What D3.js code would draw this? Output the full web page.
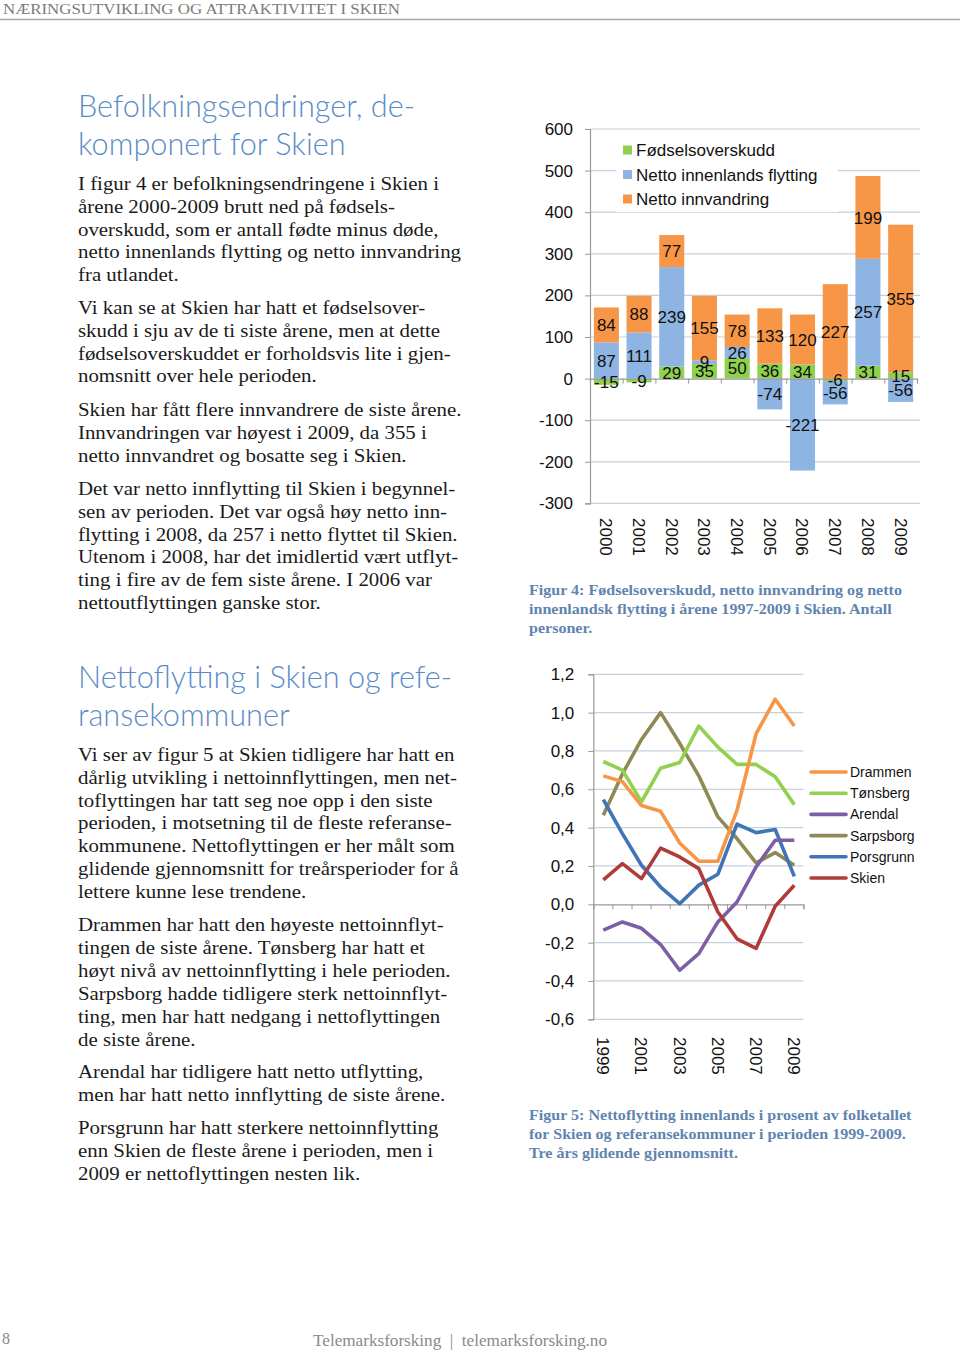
<!DOCTYPE html>
<html><head><meta charset="utf-8">
<script src="https://cdn.jsdelivr.net/npm/d3@7"></script>
<style>
html,body{margin:0;padding:0;background:#fff;}
svg{display:block;}
</style></head>
<body>
<script>
// ---------- Figure 4 data ----------
const years4 = ["2000","2001","2002","2003","2004","2005","2006","2007","2008","2009"];
const seriesNames4 = ["Fødselsoverskudd","Netto innenlands flytting","Netto innvandring"];
const fodselsoverskudd = [-15,-9,29,35,50,36,34,-6,31,15];
const innenlandsFlytting = [87,111,239,9,26,-74,-221,-56,257,-56];
const innvandring = [84,88,77,155,78,133,120,227,199,355];
const yTicks4 = [-300,-200,-100,0,100,200,300,400,500,600];

// ---------- Figure 5 data ----------
const years5 = ["1999","2000","2001","2002","2003","2004","2005","2006","2007","2008","2009"];
const yearLabels5 = ["1999","2001","2003","2005","2007","2009"];
const cities = ["Drammen","Tønsberg","Arendal","Sarpsborg","Porsgrunn","Skien"];
const drammen   = [0.67,0.64,0.515,0.485,0.32,0.225,0.225,0.49,0.89,1.07,0.93];
const tonsberg  = [0.745,0.70,0.535,0.71,0.74,0.93,0.82,0.73,0.73,0.665,0.52];
const arendal   = [-0.135,-0.092,-0.125,-0.21,-0.344,-0.257,-0.092,0.012,0.195,0.334,0.334];
const sarpsborg = [0.465,0.68,0.86,1.0,0.84,0.67,0.456,0.343,0.216,0.27,0.204];
const porsgrunn = [0.546,0.369,0.204,0.09,0.003,0.10,0.157,0.418,0.374,0.39,0.146];
const skien     = [0.128,0.212,0.134,0.293,0.247,0.186,-0.04,-0.18,-0.23,-0.01,0.099];
const yTicks5 = [-0.6,-0.4,-0.2,0,0.2,0.4,0.6,0.8,1.0,1.2];

// ---------- Text ----------
const header = "NÆRINGSUTVIKLING OG ATTRAKTIVITET I SKIEN";
const heading1 = ["Befolkningsendringer, de-","komponert for Skien"];
const body1 = [
 ["I figur 4 er befolkningsendringene i Skien i","årene 2000-2009 brutt ned på fødsels-","overskudd, som er antall fødte minus døde,","netto innenlands flytting og netto innvandring","fra utlandet."],
 ["Vi kan se at Skien har hatt et fødselsover-","skudd i sju av de ti siste årene, men at dette","fødselsoverskuddet er forholdsvis lite i gjen-","nomsnitt over hele perioden."],
 ["Skien har fått flere innvandrere de siste årene.","Innvandringen var høyest i 2009, da 355 i","netto innvandret og bosatte seg i Skien."],
 ["Det var netto innflytting til Skien i begynnel-","sen av perioden. Det var også høy netto inn-","flytting i 2008, da 257 i netto flyttet til Skien.","Utenom i 2008, har det imidlertid vært utflyt-","ting i fire av de fem siste årene. I 2006 var","nettoutflyttingen ganske stor."]
];
const heading2 = ["Nettoflytting i Skien og refe-","ransekommuner"];
const body2 = [
 ["Vi ser av figur 5 at Skien tidligere har hatt en","dårlig utvikling i nettoinnflyttingen, men net-","toflyttingen har tatt seg noe opp i den siste","perioden, i motsetning til de fleste referanse-","kommunene. Nettoflyttingen er her målt som","glidende gjennomsnitt for treårsperioder for å","lettere kunne lese trendene."],
 ["Drammen har hatt den høyeste nettoinnflyt-","tingen de siste årene. Tønsberg har hatt et","høyt nivå av nettoinnflytting i hele perioden."],
 ["Sarpsborg hadde tidligere sterk nettoinnflyt-","ting, men har hatt nedgang i nettoflyttingen","de siste årene."],
 ["Arendal har tidligere hatt netto utflytting,","men har hatt netto innflytting de siste årene."],
 ["Porsgrunn har hatt sterkere nettoinnflytting","enn Skien de fleste årene i perioden, men i","2009 er nettoflyttingen nesten lik."]
];
const caption4 = ["Figur 4: Fødselsoverskudd, netto innvandring og netto","innenlandsk flytting i årene 1997-2009 i Skien. Antall","personer."];
const caption5 = ["Figur 5: Nettoflytting innenlands i prosent av folketallet","for Skien og referansekommuner i perioden 1999-2009.","Tre års glidende gjennomsnitt."];
const footer = "Telemarksforsking  |  telemarksforsking.no";

const svg = d3.select("body").append("svg").attr("width",960).attr("height",1350);

const serif = "'Liberation Serif','Times New Roman',serif";
const sans = "'Liberation Sans',Arial,sans-serif";
const headFont = "Lato,'Open Sans',sans-serif";
const headColor = "#5b8cc8";
const capColor = "#5f84b0";
const hyph = s => String(s).replace(/\u2212/g,"-");

// header
svg.append("text").attr("x",3).attr("y",14).attr("font-family",serif).attr("font-size",15.5)
  .attr("fill","#7a7a7a").attr("textLength",397).attr("lengthAdjust","spacingAndGlyphs").text(header);
svg.append("line").attr("x1",0).attr("x2",960).attr("y1",19.5).attr("y2",19.5).attr("stroke","#a8a8a8").attr("stroke-width",1.5);

function sx(x0,k){ return `translate(${x0},0) scale(${k},1) translate(${-x0},0)`; }
function heading(lines, y0){
  const g = svg.append("g").attr("transform",sx(78,0.958));
  lines.forEach((t,i)=>g.append("text").attr("x",78).attr("y",y0+i*38)
    .attr("font-family",headFont).attr("font-weight",300).attr("font-size",32)
    .attr("fill",headColor).text(t));
}
function body(paras, starts){
  const g = svg.append("g").attr("transform",sx(78,1.087));
  paras.forEach((p,pi)=>p.forEach((t,i)=>g.append("text").attr("x",78).attr("y",starts[pi]+i*22.8)
    .attr("font-family",serif).attr("font-size",19.2).attr("fill","#1a1a1a").text(t)));
}
heading(heading1,117);
body(body1,[190,314,416,495]);
heading(heading2,688);
body(body2,[761,931,1000,1078,1134]);

function caption(lines,y0){
  const g = svg.append("g").attr("transform",sx(529,1.057));
  lines.forEach((t,i)=>g.append("text").attr("x",529).attr("y",y0+i*19)
    .attr("font-family",serif).attr("font-weight","bold").attr("font-size",15.2)
    .attr("fill",capColor).text(t));
}
caption(caption4,595);
caption(caption5,1120);

// footer
svg.append("text").attr("x",2).attr("y",1344).attr("font-family",serif).attr("font-size",16).attr("fill","#888").text("8");
svg.append("text").attr("x",460).attr("y",1346).attr("text-anchor","middle").attr("font-family",serif).attr("font-size",16.5).attr("fill","#8a8a8a").attr("xml:space","preserve").attr("textLength",294).attr("lengthAdjust","spacingAndGlyphs").text(footer);

// ================= Figure 4 =================
const gridCol = "#c5d2e0";
const axisCol = "#9a9a9a";
const x4 = d3.scaleBand().domain(years4).range([590,917]).paddingInner(0.235).paddingOuter(0.1175);
const y4 = d3.scaleLinear().domain([-300,600]).range([503.4,129]);
const colors4 = ["#8fd14f","#8db4e2","#f79646"];
const g4 = svg.append("g");

// gridlines
g4.selectAll("line.grid").data(yTicks4.filter(d=>d!==0)).join("line")
  .attr("x1",590).attr("x2",920).attr("y1",d=>y4(d)).attr("y2",d=>y4(d))
  .attr("stroke",gridCol).attr("stroke-width",1.2);

// stacked bars
const rows4 = years4.map((yr,i)=>({year:yr, a:fodselsoverskudd[i], b:innenlandsFlytting[i], c:innvandring[i]}));
const stack = d3.stack().keys(["a","b","c"]).offset(d3.stackOffsetDiverging);
const stacked = stack(rows4);
stacked.forEach((layer,li)=>{
  g4.selectAll(null).data(layer).join("rect")
    .attr("x",d=>x4(d.data.year)).attr("width",x4.bandwidth())
    .attr("y",d=>y4(Math.max(d[0],d[1]))).attr("height",d=>Math.abs(y4(d[0])-y4(d[1])))
    .attr("fill",colors4[li]);
});
// y axis
const yAx4 = g4.append("g").attr("transform","translate(590,0)")
  .call(d3.axisLeft(y4).tickValues(yTicks4).tickSize(5).tickPadding(12).tickFormat(d=>hyph(d3.format("d")(d))));
yAx4.select(".domain").attr("stroke",axisCol).attr("stroke-width",1.2);
yAx4.selectAll(".tick line").attr("stroke",axisCol);
yAx4.selectAll(".tick text").attr("font-family",sans).attr("font-size",17).attr("fill","#111");
// zero axis with category ticks
const xAx4 = g4.append("g").attr("transform",`translate(0,${y4(0)})`)
  .call(d3.axisBottom(d3.scaleLinear().domain([0,10]).range([590,917])).ticks(10).tickSize(5).tickFormat(""));
xAx4.select(".domain").attr("stroke",axisCol).attr("stroke-width",1.2);
xAx4.selectAll(".tick line").attr("stroke",axisCol);
// data labels
stacked.forEach((layer,li)=>{
  g4.selectAll(null).data(layer).join("text")
    .attr("x",d=>x4(d.data.year)+x4.bandwidth()/2)
    .attr("y",d=>y4((d[0]+d[1])/2)).attr("dy","0.36em")
    .attr("text-anchor","middle").attr("font-family",sans).attr("font-size",17).attr("fill","#111")
    .text(d=>d.data[["a","b","c"][li]]);
});
// year labels (rotated)
g4.selectAll("text.yr").data(years4).join("text")
  .attr("transform",d=>`translate(${x4(d)+x4.bandwidth()/2},518) rotate(90)`)
  .attr("dy","0.36em").attr("font-family",sans).attr("font-size",17).attr("fill","#111").text(d=>d);
// legend
const leg4 = g4.append("g");
leg4.append("rect").attr("x",616).attr("y",138).attr("width",222).attr("height",74).attr("fill","#fff");
seriesNames4.forEach((n,i)=>{
  const yy = 150 + i*24.5;
  leg4.append("rect").attr("x",623).attr("y",yy-4.5).attr("width",9).attr("height",9).attr("fill",colors4[i]);
  leg4.append("text").attr("x",636).attr("y",yy).attr("dy","0.36em").attr("font-family",sans).attr("font-size",17).attr("fill","#111").text(n);
});

// ================= Figure 5 =================
const x5 = d3.scalePoint().domain(years5).range([603.3,794.3]);
const step5 = x5.step();
const y5 = d3.scaleLinear().domain([-0.6,1.2]).range([1019.3,674.3]);
const g5 = svg.append("g");
const left5 = 593.3, right5 = 593.3 + 11*step5;
g5.selectAll("line.grid").data(yTicks5.filter(d=>d!==0)).join("line")
  .attr("x1",left5).attr("x2",right5).attr("y1",d=>y5(d)).attr("y2",d=>y5(d))
  .attr("stroke",gridCol).attr("stroke-width",1.2);
const yAx5 = g5.append("g").attr("transform",`translate(${left5},0)`)
  .call(d3.axisLeft(y5).tickValues(yTicks5).tickSize(5).tickPadding(14).tickFormat(d=>hyph(d3.format(".1f")(d)).replace(".",",")));
yAx5.select(".domain").attr("stroke",axisCol).attr("stroke-width",1.2);
yAx5.selectAll(".tick line").attr("stroke",axisCol);
yAx5.selectAll(".tick text").attr("font-family",sans).attr("font-size",17).attr("fill","#111");
const xAx5 = g5.append("g").attr("transform",`translate(0,${y5(0)})`)
  .call(d3.axisBottom(d3.scaleLinear().domain([0,11]).range([left5,right5])).ticks(11).tickSize(5).tickFormat(""));
xAx5.select(".domain").attr("stroke",axisCol).attr("stroke-width",1.2);
xAx5.selectAll(".tick line").attr("stroke",axisCol);

const colors5 = ["#f79646","#92d050","#7b5ea6","#8f8a55","#3f74b5","#b03c3a"];
const seriesData5 = [drammen,tonsberg,arendal,sarpsborg,porsgrunn,skien];
const line5 = d3.line().x((d,i)=>x5(years5[i])).y(d=>y5(d));
[3,1,0,4,2,5].forEach(k=>{
  g5.append("path").attr("d",line5(seriesData5[k])).attr("fill","none")
    .attr("stroke",colors5[k]).attr("stroke-width",3.6).attr("stroke-linejoin","round");
});
g5.selectAll("text.yr").data(yearLabels5).join("text")
  .attr("transform",d=>`translate(${x5(d)},1037) rotate(90)`)
  .attr("dy","0.36em").attr("font-family",sans).attr("font-size",17).attr("fill","#111").text(d=>d);
cities.forEach((c,i)=>{
  const yy = 772 + i*21.2;
  g5.append("line").attr("x1",811).attr("x2",846).attr("y1",yy).attr("y2",yy)
    .attr("stroke",colors5[i]).attr("stroke-width",3.6).attr("stroke-linecap","round");
  g5.append("text").attr("x",850).attr("y",yy).attr("dy","0.36em").attr("font-family",sans)
    .attr("font-size",14).attr("fill","#111").text(c);
});
</script>
</body></html>
